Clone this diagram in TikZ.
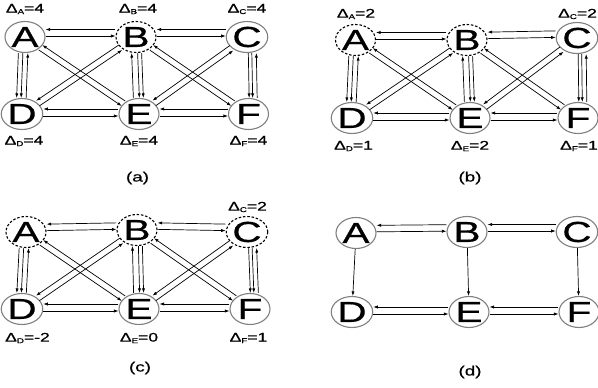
\documentclass[tikz,border=0pt]{standalone}
\usepackage{fontspec}
\setmainfont{Liberation Sans}
\newfontfamily\wfont[FakeStretch=1.4,FakeBold=0.5]{Liberation Sans}
\newfontfamily\lfont[FakeStretch=1.4,FakeBold=0.9]{Liberation Sans}
\usetikzlibrary{shapes.geometric,arrows.meta}
\tikzset{
  nd/.style={ellipse, draw=gray, line width=1.1pt, minimum width=40pt, minimum height=31pt, inner sep=0pt, font=\wfont\fontsize{29}{29}\selectfont},
  dnd/.style={nd, draw=black, dash pattern=on 2.5pt off 1.8pt},
  ed/.style={-{Latex[length=4.5pt,width=3.2pt]}, line width=0.7pt},
  lab/.style={inner sep=0pt, font=\lfont\fontsize{12.5}{12.5}\selectfont},
  subcap/.style={inner sep=0pt, font=\wfont\fontsize{13.5}{13.5}\selectfont},
}
\newcommand\dl[2]{Δ\raisebox{-1.5pt}{\fontsize{7}{7}\selectfont #1}=#2}
\newcommand\sh[4]{\draw[ed,transform canvas={shift={(#1,#2)}}] (#3) -- (#4);}
\newcommand\fullg[1]{%
  % horizontal pairs
  \sh{0}{-7.5}{#1B}{#1A}\sh{0}{-1}{#1A}{#1B}%
  \sh{0}{-7.5}{#1C}{#1B}\sh{0}{-1}{#1B}{#1C}%
  \sh{0}{-5}{#1E}{#1D}\sh{0}{2}{#1D}{#1E}%
  \sh{0}{-5}{#1F}{#1E}\sh{0}{2}{#1E}{#1F}%
  % vertical triples
  \sh{-6}{0}{#1A}{#1D}\sh{-1.5}{0}{#1A}{#1D}\sh{3.5}{0}{#1D}{#1A}%
  \sh{-5}{0}{#1E}{#1B}\sh{1}{0}{#1B}{#1E}\sh{5}{0}{#1B}{#1E}%
  \sh{1}{0}{#1C}{#1F}\sh{4.5}{0}{#1C}{#1F}\sh{9}{0}{#1F}{#1C}%
  % diagonals
  \sh{-1.7}{2.5}{#1A}{#1E}\sh{1.7}{-2.5}{#1E}{#1A}%
  \sh{-1.7}{2.5}{#1B}{#1F}\sh{1.7}{-2.5}{#1F}{#1B}%
  \sh{-1.7}{-2.5}{#1B}{#1D}\sh{1.7}{2.5}{#1D}{#1B}%
  \sh{-1.7}{-2.5}{#1C}{#1E}\sh{1.7}{2.5}{#1E}{#1C}%
}
\begin{document}
\begin{tikzpicture}[x=1pt,y=-1pt]
\useasboundingbox[fill=white] (0,0) rectangle (598,388);
% ---------- (a)
\node[nd]  (aA) at (25,37) {A};
\node[dnd] (aB) at (136,37) {B};
\node[nd]  (aC) at (247,37) {C};
\node[nd]  (aD) at (22,114) {D};
\node[nd]  (aE) at (139,114) {E};
\node[nd]  (aF) at (248.5,114) {F};
\fullg{a}
\node[lab] (laA) at (25,9) {\dl{A}{4}};
\node[lab] (laB) at (138,9) {\dl{B}{4}};
\node[lab] (laC) at (247,9) {\dl{C}{4}};
\node[lab] (laD) at (24,141) {\dl{D}{4}};
\node[lab] (laE) at (139,141) {\dl{E}{4}};
\node[lab] (laF) at (248.5,141) {\dl{F}{4}};
\node[subcap] (capa) at (137.5,178) {(a)};
% ---------- (b)
\node[dnd] (bA) at (355.5,40) {A};
\node[dnd] (bB) at (467,40) {B};
\node[nd]  (bC) at (577,38) {C};
\node[nd]  (bD) at (352,118) {D};
\node[nd]  (bE) at (470,118) {E};
\node[nd]  (bF) at (578,118) {F};
\fullg{b}
\node[lab] (lbA) at (356,14) {\dl{A}{2}};
\node[lab] (lbC) at (577.5,14) {\dl{C}{2}};
\node[lab] (lbD) at (353.5,146) {\dl{D}{1}};
\node[lab] (lbE) at (470,146) {\dl{E}{2}};
\node[lab] (lbF) at (579,146) {\dl{F}{1}};
\node[subcap] (capb) at (470,178) {(b)};
% ---------- (c)
\node[dnd] (cA) at (26,232) {A};
\node[dnd] (cB) at (137,230) {B};
\node[dnd] (cC) at (247,232) {C};
\node[nd]  (cD) at (22,309) {D};
\node[nd]  (cE) at (139,309) {E};
\node[nd]  (cF) at (250,309) {F};
\fullg{c}
\node[lab] (lcC) at (247.5,207) {\dl{C}{2}};
\node[lab] (lcD) at (27.5,338) {\dl{D}{-2}};
\node[lab] (lcE) at (139,338) {\dl{E}{0}};
\node[lab] (lcF) at (248.5,338) {\dl{F}{1}};
\node[subcap] (capc) at (140,368) {(c)};
% ---------- (d)
\node[nd] (dA) at (356,233) {A};
\node[nd] (dB) at (467,232) {B};
\node[nd] (dC) at (577,232) {C};
\node[nd] (dD) at (352,312) {D};
\node[nd] (dE) at (469,312) {E};
\node[nd] (dF) at (579,312) {F};
\sh{0}{-7.5}{dB}{dA}\sh{0}{-1}{dA}{dB}
\sh{0}{-7.5}{dC}{dB}\sh{0}{-1}{dB}{dC}
\sh{0}{-5}{dE}{dD}\sh{0}{2}{dD}{dE}
\sh{0}{-5}{dF}{dE}\sh{0}{2}{dE}{dF}
\draw[ed] (dA) -- (dD);
\draw[ed] (dB) -- (dE);
\draw[ed] (dC) -- (dF);
\node[subcap] (capd) at (470,372) {(d)};
\end{tikzpicture}
\end{document}
